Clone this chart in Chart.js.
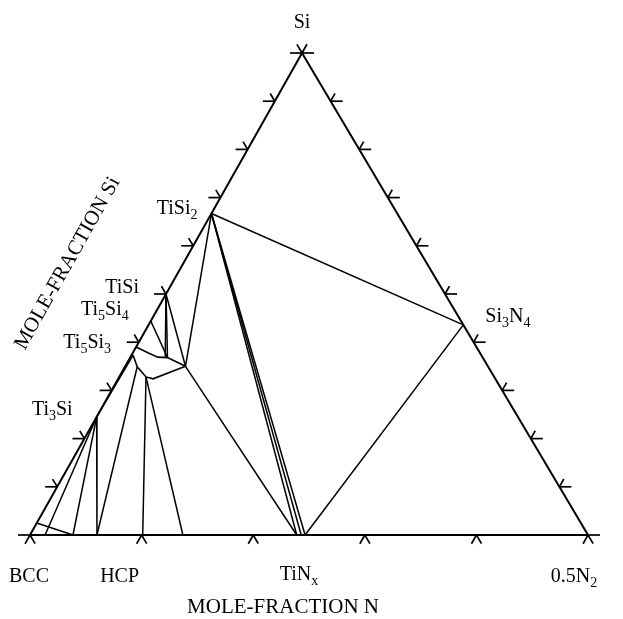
<!DOCTYPE html>
<html lang="en">
<head>
<meta charset="UTF-8">
<title>Ti-Si-N isothermal section</title>
<script src="https://cdn.jsdelivr.net/npm/chart.js"></script>
<style>
    body { margin: 0; background: #fff; }
    #wrap { width: 623px; height: 619px; }
</style>
</head>
<body>
<div id="wrap"><canvas id="diagram" width="623" height="619"></canvas></div>
<script>
// compositions are [x(N), x(Si)]; right corner is 0.5N2
const BCC = [0, 0];
const N2 = [1, 0];
const Si = [0, 1];

const TiSi2 = [0, 0.667];
const TiSi = [0, 0.5];
const Ti5Si4 = [0, 0.444];
const Ti5Si3 = [0, 0.39];
const Ti3Si = [0, 0.245];
const Si3N4 = [0.564, 0.436];
const Ti5Si3N = [0.108, 0.35];
const TiN_lo = [0.478, 0];
const TiN_mid = [0.486, 0];
const TiN_hi = [0.493, 0];
const ti5si3Node = [0.067, 0.368];

// Ti5Si3 homogeneity range (upper and lower boundary)
const ti5si3Upper = [Ti5Si3, [0.027, 0.378], [0.049, 0.369], ti5si3Node, Ti5Si3N];
const ti5si3Lower = [[0.003, 0.373], [0.022, 0.349], [0.048, 0.328], [0.0625, 0.324], Ti5Si3N];

const tieLines = [
    [[0, 0.025], [0.077, 0]],
    [Ti3Si, [0.027, 0]],
    [Ti3Si, [0.077, 0]],
    [Ti3Si, [0.12, 0]],
    [Ti3Si, [0.003, 0.373]],
    [[0.022, 0.349], [0.12, 0]],
    [[0.048, 0.328], [0.202, 0]],
    [[0.048, 0.328], [0.274, 0]],
    [TiSi, [0.062, 0.37]],
    [TiSi, ti5si3Node],
    [Ti5Si4, ti5si3Node],
    [TiSi, Ti5Si3N],
    [TiSi2, Ti5Si3N],
    [Ti5Si3N, TiN_lo],
    [TiSi2, TiN_lo],
    [TiSi2, TiN_mid],
    [TiSi2, TiN_hi],
    [Si3N4, TiN_hi],
    [TiSi2, Si3N4]
];

const edgeTicks = [0.1, 0.2, 0.3, 0.4, 0.5, 0.6, 0.7, 0.8, 0.9];
const bottomTicks = [0.2, 0.4, 0.6, 0.8];

const labelText = ['Si', 'TiSi_2', 'TiSi', 'Ti_5Si_4', 'Ti_5Si_3', 'Ti_3Si', 'Si_3N_4', 'BCC', 'HCP', 'TiN_x', '0.5N_2'];
const labelAt = [Si, TiSi2, TiSi, Ti5Si4, Ti5Si3, Ti3Si, Si3N4, BCC, [0.2, 0], [0.5, 0], N2];
const axisTitleN = 'MOLE-FRACTION N';
const axisTitleSi = 'MOLE-FRACTION Si';

// where the Si corner sits along the base (the printed triangle leans a bit)
const APEX_X = 0.4875;
const toXY = c => ({ x: c[0] + c[1] * APEX_X, y: c[1] });

const FONT = '"Liberation Serif", "DejaVu Serif", serif';

function drawFormula(ctx, text, x, y, align) {
    const parts = [];
    let i = 0;
    while (i < text.length) {
        if (text[i] === '_') {
            parts.push({ s: text[i + 1], sub: true });
            i += 2;
        } else {
            let j = i;
            while (j < text.length && text[j] !== '_') j++;
            parts.push({ s: text.slice(i, j), sub: false });
            i = j;
        }
    }
    const big = '20px ' + FONT, small = '14px ' + FONT;
    let w = 0;
    parts.forEach(p => { ctx.font = p.sub ? small : big; p.w = ctx.measureText(p.s).width; w += p.w; });
    let cx = align === 'right' ? x - w : align === 'center' ? x - w / 2 : x;
    ctx.textAlign = 'left';
    ctx.textBaseline = 'alphabetic';
    parts.forEach(p => {
        ctx.font = p.sub ? small : big;
        ctx.fillText(p.s, cx, p.sub ? y + 5 : y);
        cx += p.w;
    });
}

// label placement: [dx, dy, align] relative to the anchor composition
const labelLayout = [
    [0, -25, 'center'],
    [-14, 0, 'right'],
    [-27, -1, 'right'],
    [-22, -6, 'right'],
    [-25, 1, 'right'],
    [-24, -2, 'right'],
    [22, -3, 'left'],
    [-1, 47, 'center'],
    [-22, 47, 'center'],
    [-10, 45, 'center'],
    [-14, 47, 'center']
];

const ternaryDecor = {
    id: 'ternaryDecor',
    afterDatasetsDraw(chart) {
        const { ctx, scales: { x, y } } = chart;
        const px = c => { const q = toXY(c); return { x: x.getPixelForValue(q.x), y: y.getPixelForValue(q.y) }; };
        const A = px(BCC), B = px(N2), C = px(Si);
        const unit = (p, q) => { const dx = q.x - p.x, dy = q.y - p.y, l = Math.hypot(dx, dy); return { x: dx / l, y: dy / l }; };
        const dL = unit(A, C);
        const dR = unit(B, C);
        const H = { x: 1, y: 0 };
        const neg = v => ({ x: -v.x, y: -v.y });
        ctx.save();
        ctx.strokeStyle = '#000';
        ctx.lineWidth = 1.7;
        const seg = (p, v, len) => {
            ctx.beginPath();
            ctx.moveTo(p.x, p.y);
            ctx.lineTo(p.x + v.x * len, p.y + v.y * len);
            ctx.stroke();
        };
        edgeTicks.forEach(t => {
            const pl = px([0, t]);
            seg(pl, neg(H), 12); seg(pl, dR, 9);
            const pr = px([1 - t, t]);
            seg(pr, H, 12); seg(pr, dL, 9);
        });
        bottomTicks.forEach(t => {
            const pb = px([t, 0]);
            seg(pb, neg(dL), 10); seg(pb, neg(dR), 10);
        });
        seg(A, neg(H), 12); seg(A, neg(dL), 10); seg(A, neg(dR), 10);
        seg(B, H, 12); seg(B, neg(dR), 10); seg(B, neg(dL), 10);
        seg(C, H, 12); seg(C, neg(H), 12); seg(C, dL, 10); seg(C, dR, 10);

        ctx.fillStyle = '#000';
        labelText.forEach((t, i) => {
            const p = px(labelAt[i]);
            const [dx, dy, al] = labelLayout[i];
            drawFormula(ctx, t, p.x + dx, p.y + dy, al);
        });

        const mid = px([0.5, 0]);
        ctx.font = '21px ' + FONT;
        ctx.textAlign = 'center';
        ctx.textBaseline = 'alphabetic';
        ctx.fillText(axisTitleN, mid.x - 26, mid.y + 78);

        const side = px([0, 0.45]);
        ctx.translate(side.x - 80, side.y - 52);
        ctx.rotate(-Math.atan2(-dL.y, dL.x));
        ctx.fillText(axisTitleSi, 0, 0);
        ctx.restore();
    }
};

const lineStyle = { showLine: true, pointRadius: 0, borderColor: '#000', fill: false, tension: 0, clip: false };

const datasets = [
    Object.assign({ data: [BCC, N2, Si, BCC].map(toXY), borderWidth: 2 }, lineStyle),
    Object.assign({ data: ti5si3Upper.map(toXY), borderWidth: 1.6 }, lineStyle),
    Object.assign({ data: ti5si3Lower.map(toXY), borderWidth: 1.6 }, lineStyle)
];
tieLines.forEach(l => datasets.push(Object.assign({ data: l.map(toXY), borderWidth: 1.5 }, lineStyle)));

new Chart(document.getElementById('diagram'), {
    type: 'scatter',
    data: { datasets: datasets },
    options: {
        responsive: false,
        animation: false,
        devicePixelRatio: 1,
        layout: { padding: { left: 30, right: 35, top: 53, bottom: 84 } },
        plugins: { legend: { display: false }, tooltip: { enabled: false } },
        scales: {
            x: { type: 'linear', min: 0, max: 1, display: false },
            y: { type: 'linear', min: 0, max: 1, display: false }
        }
    },
    plugins: [ternaryDecor]
});
</script>
</body>
</html>
